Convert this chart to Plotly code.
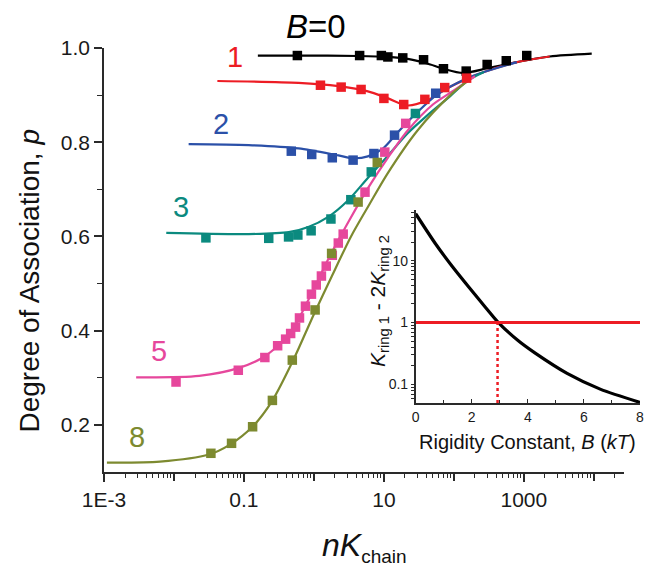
import plotly.graph_objects as go

# ---------------- main panel data ----------------
# B = 0 (black)
b0_fit_x = [0.158, 0.60, 4.27, 11.5, 21.9, 41.7, 70.8, 135, 302, 794, 2344, 9333]
b0_fit_p = [0.984, 0.984, 0.983, 0.981, 0.977, 0.967, 0.956, 0.947, 0.957, 0.970, 0.982, 0.988]
b0_pts_x = [0.58, 4.5, 9.2, 11.4, 18.6, 36.9, 71, 150, 299, 561, 1100]
b0_pts_p = [0.984, 0.984, 0.984, 0.981, 0.979, 0.975, 0.956, 0.951, 0.965, 0.973, 0.984]

# B = 1 (red)
b1_fit_x = [0.0417, 0.603, 2.24, 5.89, 11.5, 21.9, 41.7, 79.4, 155, 269, 794, 2344]
b1_fit_p = [0.930, 0.926, 0.919, 0.908, 0.893, 0.878, 0.889, 0.914, 0.935, 0.949, 0.970, 0.982]
b1_pts_x = [1.24, 2.45, 4.72, 10.0, 19.2, 38.5, 74, 152]
b1_pts_p = [0.921, 0.917, 0.912, 0.893, 0.880, 0.891, 0.916, 0.936]

# B = 2 (blue)
b2_fit_x = [0.0162, 0.117, 0.603, 2.24, 3.63, 5.89, 9.77, 15.8, 30.2, 58.9, 155, 269, 794]
b2_fit_p = [0.796, 0.794, 0.787, 0.772, 0.766, 0.770, 0.787, 0.821, 0.864, 0.902, 0.936, 0.949, 0.970]
b2_pts_x = [0.475, 0.93, 1.83, 3.63, 7.2, 14.2, 55]
b2_pts_p = [0.781, 0.774, 0.767, 0.762, 0.776, 0.815, 0.904]

# B = 3 (teal)
b3_fit_x = [0.00776, 0.117, 0.437, 0.832, 1.58, 3.09, 5.89, 11.5, 21.9, 41.7, 81.3, 155, 269]
b3_fit_p = [0.6075, 0.605, 0.609, 0.620, 0.641, 0.677, 0.724, 0.772, 0.819, 0.857, 0.893, 0.930, 0.949]
b3_pts_x = [0.0286, 0.226, 0.434, 0.589, 0.912, 1.75, 3.37, 6.6, 28.2]
b3_pts_p = [0.597, 0.596, 0.599, 0.603, 0.612, 0.637, 0.678, 0.737, 0.861]

# B = 5 (pink)
b5_fit_x = [0.00288, 0.0229, 0.0851, 0.191, 0.437, 0.832, 1.58, 3.09, 5.89, 11.5, 21.9, 50.1, 100, 200]
b5_fit_p = [0.301, 0.304, 0.321, 0.344, 0.391, 0.465, 0.550, 0.630, 0.702, 0.768, 0.825, 0.880, 0.910, 0.940]
b5_pts_x = [0.0107, 0.083, 0.199, 0.303, 0.394, 0.465, 0.547, 0.622, 0.757, 0.922,
            1.08, 1.28, 1.50, 1.83, 2.23, 2.62, 5.37, 10.3, 20.5]
b5_pts_p = [0.291, 0.316, 0.343, 0.368, 0.382, 0.394, 0.4075, 0.427, 0.452, 0.4775,
            0.497, 0.516, 0.537, 0.560, 0.586, 0.605, 0.694, 0.779, 0.840]

# B = 8 (olive)
b8_fit_x = [0.0011, 0.0063, 0.0316, 0.063, 0.132, 0.251, 0.501, 1.0, 1.78, 3.39, 6.31, 11.2, 30.2, 89.1, 158]
b8_fit_p = [0.120, 0.122, 0.137, 0.158, 0.196, 0.250, 0.336, 0.435, 0.514, 0.600, 0.670, 0.733, 0.825, 0.900, 0.930]
b8_pts_x = [0.0337, 0.0665, 0.133, 0.255, 0.491, 1.04, 1.79, 4.28, 8.04]
b8_pts_p = [0.1397, 0.1609, 0.196, 0.252, 0.3375, 0.444, 0.564, 0.673, 0.757]

series_names = ["B=0", "B=1", "B=2", "B=3", "B=5", "B=8"]
series_labels = ["<i>B</i>=0", "1", "2", "3", "5", "8"]
series_colors = ["#000000", "#ED1C24", "#2B50A8", "#0B8A7F", "#E6479C", "#7D8A30"]

# ---------------- inset data ----------------
rigidity_B = [0, 0.7, 1.3, 1.9, 2.5, 2.95, 3.65, 4.25, 5.4, 6.6, 8]
k_ring_diff = [57.5, 19.0, 8.13, 3.72, 1.74, 1.0, 0.513, 0.324, 0.151, 0.0832, 0.0513]
unity_level = 1.0
b_cross = 2.92

# tick definitions
labelled_decades = [1e-3, 1e-1, 1e1, 1e3]
labelled_text = ["1E-3", "0.1", "10", "1000"]
unlabelled_decades = [1e-2, 1e0, 1e2, 1e4]

# ---------------- figure ----------------
FONT = "Liberation Sans, Arial, Helvetica, sans-serif"
fig = go.Figure()

fits = [(b0_fit_x, b0_fit_p), (b1_fit_x, b1_fit_p), (b2_fit_x, b2_fit_p),
        (b3_fit_x, b3_fit_p), (b5_fit_x, b5_fit_p), (b8_fit_x, b8_fit_p)]
pts = [(b0_pts_x, b0_pts_p), (b1_pts_x, b1_pts_p), (b2_pts_x, b2_pts_p),
       (b3_pts_x, b3_pts_p), (b5_pts_x, b5_pts_p), (b8_pts_x, b8_pts_p)]

for name, col, (fx, fp) in zip(series_names, series_colors, fits):
    fig.add_trace(go.Scatter(x=fx, y=fp, mode="lines", line=dict(color=col, width=2.2, shape="spline", smoothing=0.8),
                             name=name, showlegend=False, hoverinfo="skip"))
for name, col, (mx, mp) in zip(series_names, series_colors, pts):
    fig.add_trace(go.Scatter(x=mx, y=mp, mode="markers",
                             marker=dict(symbol="square", size=9.5, color=col),
                             name=name, showlegend=False))

# inset traces
fig.add_trace(go.Scatter(x=rigidity_B, y=k_ring_diff, mode="lines", xaxis="x2", yaxis="y2",
                         line=dict(color="black", width=3.2, shape="spline", smoothing=0.7), showlegend=False))
fig.add_trace(go.Scatter(x=[rigidity_B[0], rigidity_B[-1]], y=[unity_level, unity_level], mode="lines",
                         xaxis="x2", yaxis="y2", line=dict(color="#ED1C24", width=3), showlegend=False))
fig.add_trace(go.Scatter(x=[b_cross, b_cross], y=[10 ** -1.3, unity_level], mode="lines",
                         xaxis="x2", yaxis="y2", line=dict(color="#ED1C24", width=2.5, dash="dot"),
                         showlegend=False))

main_minor = [k * 10.0 ** d for d in range(-3, 5) for k in range(2, 10) if k * 10.0 ** d < 2.7e4]
inset_y_minor = [k * 10.0 ** d for d in range(-2, 2) for k in range(2, 10) if 0.05 <= k * 10.0 ** d <= 66]

L, R, T, B = 104, 8, 48, 95
W, H = 652, 567
pw, ph = W - L - R, H - T - B

def px(xp):
    return (xp - L) / pw

def py(yp):
    return (H - B - yp) / ph

axis_common = dict(showgrid=False, zeroline=False, showline=True, linecolor="#2a2a2a", linewidth=1.5,
                   ticks="outside", tickcolor="#2a2a2a", tickwidth=1.5)
XRANGE = [-3, 4.433]

fig.update_layout(
    width=W, height=H, margin=dict(l=L, r=R, t=T, b=B),
    paper_bgcolor="white", plot_bgcolor="white",
    font=dict(family=FONT, color="#1a1a1a"),
    xaxis=dict(type="log", range=XRANGE, domain=[0, px(628)], tickvals=labelled_decades, ticktext=labelled_text,
               ticklen=8, tickfont=dict(size=21, family=FONT, color="#1a1a1a"),
               minor=dict(tickvals=main_minor, ticklen=4, ticks="outside", tickcolor="#2a2a2a", tickwidth=1.2),
               **axis_common),
    xaxis3=dict(type="log", range=XRANGE, domain=[0, px(628)], overlaying="x", anchor="y", side="bottom",
                tickvals=unlabelled_decades, showticklabels=False, ticks="outside", ticklen=8,
                tickcolor="#2a2a2a", tickwidth=1.5, showline=False, showgrid=False, zeroline=False),
    yaxis=dict(range=[0.1, 1.0], domain=[0, 1], tickvals=[0.2, 0.4, 0.6, 0.8, 1.0],
               ticktext=["0.2", "0.4", "0.6", "0.8", "1.0"], ticklen=8,
               tickfont=dict(size=21, family=FONT, color="#1a1a1a"),
               minor=dict(tickvals=[0.3, 0.5, 0.7, 0.9], ticklen=5, ticks="outside", tickcolor="#2a2a2a", tickwidth=1.2),
               **axis_common),
    xaxis2=dict(range=[0, 8], domain=[px(418), px(644)], anchor="y2", tickvals=[0, 2, 4, 6, 8],
                ticks="inside", ticklen=4, tickwidth=1.2, tickcolor="#2a2a2a",
                minor=dict(tickvals=[1, 3, 5, 7], ticklen=3, ticks="inside", tickcolor="#2a2a2a"),
                tickfont=dict(size=14, family=FONT, color="#1a1a1a"),
                showgrid=False, zeroline=False, showline=True, linecolor="#2a2a2a", linewidth=1.5),
    yaxis2=dict(type="log", range=[-1.30, 1.82], domain=[py(403), py(210)], anchor="x2",
                tickvals=[0.1, 1, 10], ticktext=["0.1", "1", "10"],
                ticks="outside", ticklen=3, tickwidth=1.2, tickcolor="#2a2a2a",
                minor=dict(tickvals=inset_y_minor, ticklen=2.5, ticks="outside", tickcolor="#2a2a2a"),
                tickfont=dict(size=14, family=FONT, color="#1a1a1a"),
                showgrid=False, zeroline=False, showline=True, linecolor="#2a2a2a", linewidth=1.5),
)

# invisible trace to activate the tick-only overlay axis
fig.add_trace(go.Scatter(x=[unlabelled_decades[1]], y=[0.5], xaxis="x3", yaxis="y", mode="markers",
                         marker=dict(opacity=0), showlegend=False, hoverinfo="skip"))

# curve labels (paper coordinates so that they are never hidden)
label_px = [(318, 26, 33), (236, 57, 29), (222, 124, 29), (182, 207, 29), (159, 351, 29), (137, 437, 29)]
for text, col, (lx, ly, fs) in zip(series_labels, series_colors, label_px):
    fig.add_annotation(x=px(lx), y=py(ly), xref="paper", yref="paper", text=text, showarrow=False,
                       font=dict(size=fs, color=col, family=FONT), xanchor="center", yanchor="middle")

# axis titles
fig.add_annotation(x=px(28), y=py(281), xref="paper", yref="paper", text="Degree of Association, <i>p</i>",
                   textangle=-90, showarrow=False, font=dict(size=28, family=FONT, color="#111"),
                   xanchor="center", yanchor="middle")
fig.add_annotation(x=px(366), y=py(547), xref="paper", yref="paper",
                   text="<i>nK</i><sub><span style='font-size:19px'>chain</span></sub>",
                   showarrow=False, font=dict(size=32, family=FONT, color="#111"),
                   xanchor="center", yanchor="middle")
fig.add_annotation(x=px(531), y=py(442), xref="paper", yref="paper",
                   text="Rigidity Constant, <i>B</i> (<i>kT</i>)",
                   showarrow=False, font=dict(size=20, family=FONT, color="#111"),
                   xanchor="center", yanchor="middle")
fig.add_annotation(x=px(381), y=py(301), xref="paper", yref="paper",
                   text="<i>K</i><sub>ring 1</sub> - 2<i>K</i><sub>ring 2</sub>", textangle=-90,
                   showarrow=False, font=dict(size=21, family=FONT, color="#111"),
                   xanchor="center", yanchor="middle")

fig.write_html("out.html")
